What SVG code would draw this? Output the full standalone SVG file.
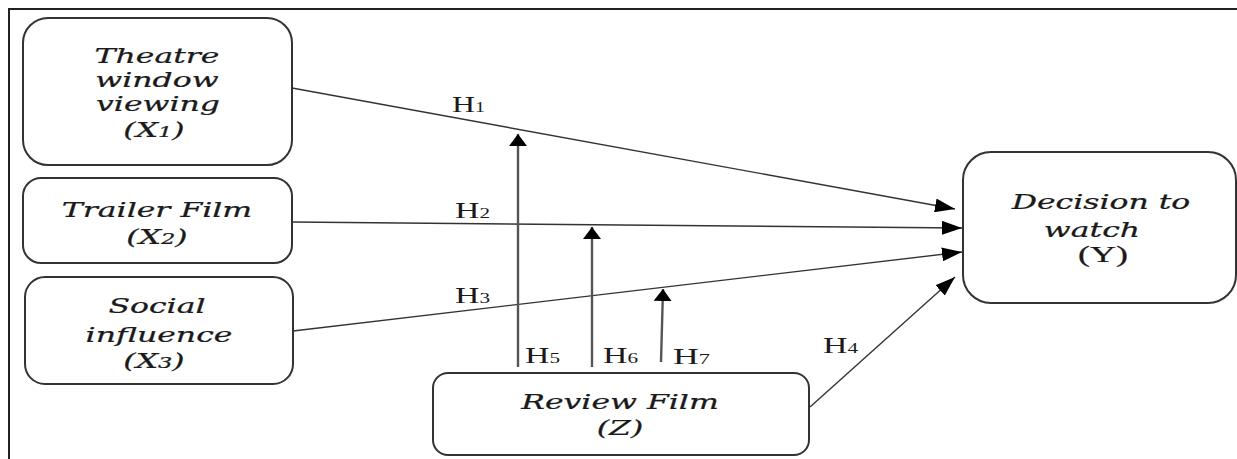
<svg xmlns="http://www.w3.org/2000/svg" width="1237" height="459" viewBox="0 0 1237 459">
<style>
.box{fill:#fff;stroke:#333;stroke-width:2}
.bt{font-family:"DejaVu Serif","Liberation Serif",serif;font-style:italic;font-size:21px;fill:#1a1a1a;stroke:#1a1a1a;stroke-width:0.25;text-anchor:middle}
.up{font-style:normal;font-family:"Liberation Serif",serif;font-size:24px}
.hl{font-family:"Liberation Serif",serif;font-size:24px;fill:#1a1a1a}
.sub{font-size:15px}
.ln{stroke:#333;stroke-width:1.4;fill:none}
.vl{stroke:#555;stroke-width:2.4;fill:none}
</style>
<defs>
<marker id="ah" markerUnits="userSpaceOnUse" markerWidth="20" markerHeight="14" refX="20" refY="7" orient="auto"><path d="M0,0 L20,7 L0,14 z" fill="#000"/></marker>
<marker id="av" markerUnits="userSpaceOnUse" markerWidth="12" markerHeight="18" refX="12" refY="9" orient="auto"><path d="M0,0 L12,9 L0,18 z" fill="#000"/></marker>
</defs>
<rect x="9" y="9" width="1240" height="460" fill="none" stroke="#222" stroke-width="2"/>
<g id="connectors">
<line class="ln" x1="292" y1="88" x2="955" y2="209" marker-end="url(#ah)"/>
<line class="ln" x1="292" y1="222" x2="962" y2="228" marker-end="url(#ah)"/>
<line class="ln" x1="293" y1="331" x2="962" y2="252" marker-end="url(#ah)"/>
<line class="ln" x1="810" y1="407" x2="955" y2="277" marker-end="url(#ah)"/>
<line class="vl" x1="518" y1="367" x2="518" y2="134" marker-end="url(#av)"/>
<line class="vl" x1="592" y1="367" x2="592" y2="227" marker-end="url(#av)"/>
<line class="vl" x1="661" y1="362" x2="663" y2="289" marker-end="url(#av)"/>
<text class="hl" x="452" y="112" textLength="33" lengthAdjust="spacingAndGlyphs">H<tspan class="sub">1</tspan></text>
<text class="hl" x="455" y="218" textLength="35" lengthAdjust="spacingAndGlyphs">H<tspan class="sub">2</tspan></text>
<text class="hl" x="455" y="303" textLength="35" lengthAdjust="spacingAndGlyphs">H<tspan class="sub">3</tspan></text>
<text class="hl" x="823" y="353" textLength="35" lengthAdjust="spacingAndGlyphs">H<tspan class="sub">4</tspan></text>
<text class="hl" x="525" y="363" textLength="35" lengthAdjust="spacingAndGlyphs">H<tspan class="sub">5</tspan></text>
<text class="hl" x="603" y="363" textLength="35" lengthAdjust="spacingAndGlyphs">H<tspan class="sub">6</tspan></text>
<text class="hl" x="673" y="364" textLength="37" lengthAdjust="spacingAndGlyphs">H<tspan class="sub">7</tspan></text>
</g>
<g id="x1">
<rect class="box" x="23" y="18" width="269" height="147" rx="25"/>
<text class="bt" transform="translate(157,63) scale(1.5,1)">Theatre</text>
<text class="bt" transform="translate(157,87) scale(1.5,1)">window</text>
<text class="bt" transform="translate(158,111) scale(1.5,1)">viewing</text>
<text class="bt" transform="translate(154,137) scale(1.5,1)">(X<tspan class="sub">1</tspan>)</text>
</g>
<g id="x2">
<rect class="box" x="23" y="178" width="269" height="85" rx="18"/>
<text class="bt" transform="translate(157,217) scale(1.5,1)">Trailer Film</text>
<text class="bt" transform="translate(157,244) scale(1.5,1)">(X<tspan class="sub">2</tspan>)</text>
</g>
<g id="x3">
<rect class="box" x="25" y="277" width="268" height="107" rx="20"/>
<text class="bt" transform="translate(157,313) scale(1.5,1)">Social</text>
<text class="bt" transform="translate(159,342) scale(1.5,1)">influence</text>
<text class="bt" transform="translate(154,368) scale(1.5,1)">(X<tspan class="sub">3</tspan>)</text>
</g>
<g id="z">
<rect class="box" x="433" y="373" width="376" height="82" rx="15"/>
<text class="bt" transform="translate(620,409) scale(1.5,1)">Review Film</text>
<text class="bt" transform="translate(620,435) scale(1.5,1)">(Z)</text>
</g>
<g id="y">
<rect class="box" x="963" y="152" width="273" height="151" rx="28"/>
<text class="bt" transform="translate(1101,209) scale(1.5,1)">Decision to</text>
<text class="bt" transform="translate(1092,237) scale(1.5,1)">watch</text>
<text class="bt up" transform="translate(1103,262) scale(1.5,1)">(Y)</text>
</g>
</svg>
